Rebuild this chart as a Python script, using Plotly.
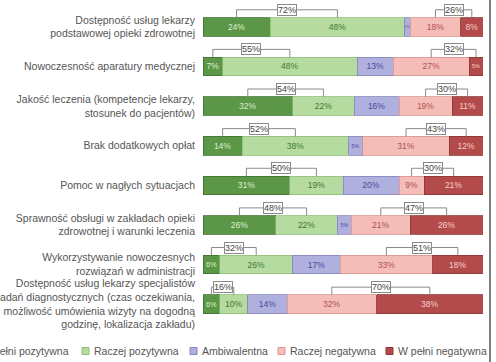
import plotly.graph_objects as go

# Survey categories (top to bottom)
categories = [
    "Dostępność usług lekarzy<br>podstawowej opieki zdrowotnej",
    "Nowoczesność aparatury medycznej",
    "Jakość leczenia (kompetencje lekarzy,<br>stosunek do pacjentów)",
    "Brak dodatkowych opłat",
    "Pomoc w nagłych sytuacjach",
    "Sprawność obsługi w zakładach opieki<br>zdrowotnej i warunki leczenia",
    "Wykorzystywanie nowoczesnych<br>rozwiązań w administracji",
    "Dostępność usług lekarzy specjalistów<br>i badań diagnostycznych (czas oczekiwania,<br>możliwość umówienia wizyty na dogodną<br>godzinę, lokalizacja zakładu)",
]

# Shares of answers (%)
w_pelni_pozytywna = [24, 7, 32, 14, 31, 26, 6, 6]
raczej_pozytywna = [48, 48, 22, 38, 19, 22, 26, 10]
ambiwalentna = [2, 13, 16, 5, 20, 5, 17, 14]
raczej_negatywna = [18, 27, 19, 31, 9, 21, 33, 32]
w_pelni_negatywna = [8, 5, 11, 12, 21, 26, 18, 38]

series_names = ["W pełni pozytywna", "Raczej pozytywna", "Ambiwalentna",
                "Raczej negatywna", "W pełni negatywna"]
series_values = [w_pelni_pozytywna, raczej_pozytywna, ambiwalentna,
                 raczej_negatywna, w_pelni_negatywna]

fills = ["#5b9747", "#b5dba0", "#b0b0de", "#f4bdb8", "#b34b4b"]
edges = ["#3f7332", "#8fbf78", "#8585bb", "#d99590", "#8a3434"]
text_colors = ["#dcefcf", "#3f7a2e", "#4a4a9a", "#b0514f", "#f6d0cc"]

ypos = list(range(len(categories)))
BAR_W = 0.47

fig = go.Figure()
for name, vals, fc, ec, tc in zip(series_names, series_values, fills, edges, text_colors):
    fig.add_trace(go.Bar(
        y=ypos, x=vals, name=name, orientation="h", width=BAR_W,
        marker=dict(color=fc, line=dict(color=ec, width=0.8)),
        text=[f"{v}%" for v in vals], textposition="inside",
        insidetextanchor="middle", textangle=0,
        textfont=dict(family="Liberation Sans, Arial", size=8.5, color=tc),
        showlegend=False, hoverinfo="skip",
    ))

# Brackets summing the positive and the negative answers
shapes = []
annotations = []
LINE_Y = 0.43
line_style = dict(color="#8a8a8a", width=1)


def bracket(i, x0, x1, label):
    top = i - LINE_Y
    bottom = i - BAR_W / 2
    shapes.append(dict(type="line", xref="x", yref="y", x0=x0, x1=x1, y0=top, y1=top, line=line_style))
    shapes.append(dict(type="line", xref="x", yref="y", x0=x0, x1=x0, y0=top, y1=bottom, line=line_style))
    shapes.append(dict(type="line", xref="x", yref="y", x0=x1, x1=x1, y0=top, y1=bottom, line=line_style))
    annotations.append(dict(
        xref="x", yref="y", x=(x0 + x1) / 2, y=top, text=label, showarrow=False,
        font=dict(family="Liberation Sans, Arial", size=9, color="#444444"),
        bgcolor="white", bordercolor="#8a8a8a", borderwidth=1, borderpad=0,
    ))


for i in ypos:
    a, b, c, d, e = (s[i] for s in series_values)
    bracket(i, a / 2, a + b / 2, f"{a + b}%")
    start = a + b + c
    bracket(i, start + d / 2, start + d + e / 2, f"{d + e}%")

# Frame edge on the right
shapes.append(dict(type="line", xref="paper", yref="paper", x0=1.025, x1=1.025,
                   y0=-0.2, y1=1.1, line=dict(color="#555555", width=1.5)))

# Compact legend drawn below the bars
PLOT_L, PLOT_W, PLOT_B, PLOT_H = 203, 280, 324, 317
legend_left_px = [-31, 82, 190, 278, 386]
legend_y_px = 351
for name, fc, ec, lx in zip(series_names, fills, edges, legend_left_px):
    x0 = (lx - PLOT_L) / PLOT_W
    x1 = (lx + 7 - PLOT_L) / PLOT_W
    y0 = (PLOT_B - (legend_y_px + 3.5)) / PLOT_H
    y1 = (PLOT_B - (legend_y_px - 3.5)) / PLOT_H
    shapes.append(dict(type="rect", xref="paper", yref="paper", x0=x0, x1=x1, y0=y0, y1=y1,
                       fillcolor=fc, line=dict(color=ec, width=1)))
    annotations.append(dict(
        xref="paper", yref="paper", x=(lx + 10 - PLOT_L) / PLOT_W,
        y=(PLOT_B - legend_y_px) / PLOT_H, xanchor="left", yanchor="middle",
        text=name, showarrow=False,
        font=dict(family="Liberation Sans, Arial", size=10.5, color="#555555"),
    ))

fig.update_layout(
    width=496, height=362,
    margin=dict(l=203, r=13, t=7, b=38),
    barmode="stack",
    paper_bgcolor="white", plot_bgcolor="white",
    shapes=shapes, annotations=annotations,
    showlegend=False,
    xaxis=dict(range=[0, 100], visible=False, fixedrange=True),
    yaxis=dict(
        range=[len(categories) - 0.5, -0.5], tickvals=ypos, ticktext=categories,
        showgrid=False, zeroline=False, showline=False, ticks="",
        automargin=False, ticklabelstandoff=7,
        tickfont=dict(family="Liberation Sans, Arial", size=10.5, color="#555555"),
    ),
    uniformtext=dict(mode=False),
)

fig.write_html("out.html")
